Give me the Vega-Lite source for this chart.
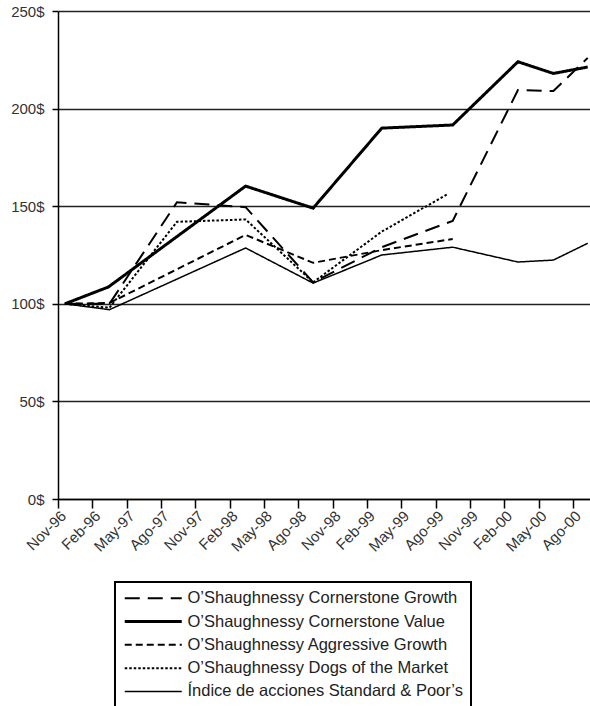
{
  "$schema": "https://vega.github.io/schema/vega-lite/v6.json",
  "width": 532,
  "height": 488,
  "autosize": "none",
  "padding": {"left": 58, "top": 11, "right": 0, "bottom": 207},
  "background": "white",
  "config": {"view": {"stroke": null}, "font": "Liberation Sans", "legend": {"strokeWidth": 2}},
  "data": {
    "values": [
      {"serie": "O’Shaughnessy Cornerstone Growth", "mes": 0.6, "valor": 100},
      {"serie": "O’Shaughnessy Cornerstone Growth", "mes": 4.5, "valor": 100},
      {"serie": "O’Shaughnessy Cornerstone Growth", "mes": 10.4, "valor": 152},
      {"serie": "O’Shaughnessy Cornerstone Growth", "mes": 16.4, "valor": 149.5},
      {"serie": "O’Shaughnessy Cornerstone Growth", "mes": 22.3, "valor": 111},
      {"serie": "O’Shaughnessy Cornerstone Growth", "mes": 28.3, "valor": 129},
      {"serie": "O’Shaughnessy Cornerstone Growth", "mes": 34.5, "valor": 142.5},
      {"serie": "O’Shaughnessy Cornerstone Growth", "mes": 40.2, "valor": 209.5},
      {"serie": "O’Shaughnessy Cornerstone Growth", "mes": 43.3, "valor": 209},
      {"serie": "O’Shaughnessy Cornerstone Growth", "mes": 46.3, "valor": 226},
      {"serie": "O’Shaughnessy Cornerstone Value", "mes": 0.6, "valor": 100},
      {"serie": "O’Shaughnessy Cornerstone Value", "mes": 4.4, "valor": 108.6},
      {"serie": "O’Shaughnessy Cornerstone Value", "mes": 16.4, "valor": 160.3},
      {"serie": "O’Shaughnessy Cornerstone Value", "mes": 22.3, "valor": 149},
      {"serie": "O’Shaughnessy Cornerstone Value", "mes": 28.3, "valor": 190},
      {"serie": "O’Shaughnessy Cornerstone Value", "mes": 34.5, "valor": 191.6},
      {"serie": "O’Shaughnessy Cornerstone Value", "mes": 40.2, "valor": 224},
      {"serie": "O’Shaughnessy Cornerstone Value", "mes": 43.3, "valor": 218},
      {"serie": "O’Shaughnessy Cornerstone Value", "mes": 46.3, "valor": 221.3},
      {"serie": "O’Shaughnessy Aggressive Growth", "mes": 0.6, "valor": 100},
      {"serie": "O’Shaughnessy Aggressive Growth", "mes": 4.5, "valor": 100.4},
      {"serie": "O’Shaughnessy Aggressive Growth", "mes": 16.4, "valor": 135.3},
      {"serie": "O’Shaughnessy Aggressive Growth", "mes": 22.3, "valor": 121},
      {"serie": "O’Shaughnessy Aggressive Growth", "mes": 28.3, "valor": 127.5},
      {"serie": "O’Shaughnessy Aggressive Growth", "mes": 34.5, "valor": 133.2},
      {"serie": "O’Shaughnessy Dogs of the Market", "mes": 0.6, "valor": 100},
      {"serie": "O’Shaughnessy Dogs of the Market", "mes": 4.5, "valor": 98},
      {"serie": "O’Shaughnessy Dogs of the Market", "mes": 10.4, "valor": 142},
      {"serie": "O’Shaughnessy Dogs of the Market", "mes": 16.4, "valor": 143.2},
      {"serie": "O’Shaughnessy Dogs of the Market", "mes": 22.3, "valor": 111},
      {"serie": "O’Shaughnessy Dogs of the Market", "mes": 28.3, "valor": 137},
      {"serie": "O’Shaughnessy Dogs of the Market", "mes": 34.0, "valor": 156},
      {"serie": "Índice de acciones Standard & Poor’s", "mes": 0.6, "valor": 100},
      {"serie": "Índice de acciones Standard & Poor’s", "mes": 4.5, "valor": 97},
      {"serie": "Índice de acciones Standard & Poor’s", "mes": 16.4, "valor": 128.6},
      {"serie": "Índice de acciones Standard & Poor’s", "mes": 22.3, "valor": 110.6},
      {"serie": "Índice de acciones Standard & Poor’s", "mes": 28.3, "valor": 125},
      {"serie": "Índice de acciones Standard & Poor’s", "mes": 34.5, "valor": 129},
      {"serie": "Índice de acciones Standard & Poor’s", "mes": 40.2, "valor": 121.4},
      {"serie": "Índice de acciones Standard & Poor’s", "mes": 43.3, "valor": 122.4},
      {"serie": "Índice de acciones Standard & Poor’s", "mes": 46.3, "valor": 131}
    ]
  },
  "mark": {"type": "line", "color": "black", "clip": false},
  "encoding": {
    "x": {
      "field": "mes",
      "type": "quantitative",
      "scale": {"domain": [0, 46.5], "nice": false, "zero": false},
      "axis": {
        "title": null,
        "values": [0, 3, 6, 9, 12, 15, 18, 21, 24, 27, 30, 33, 36, 39, 42, 45],
        "labelExpr": "['Nov-96','Feb-96','May-97','Ago-97','Nov-97','Feb-98','May-98','Ago-98','Nov-98','Feb-99','May-99','Ago-99','Nov-99','Feb-00','May-00','Ago-00'][round(datum.value/3)]",
        "labelAngle": -45,
        "labelAlign": "right",
        "labelBaseline": "middle",
        "labelFontSize": 15,
        "labelColor": "#333",
        "labelPadding": 5,
        "labelOffset": 5,
        "labelOverlap": false,
        "labelFlush": false,
        "tickSize": 9,
        "tickColor": "black",
        "tickWidth": 1.5,
        "domainColor": "black",
        "domainWidth": 1.5,
        "grid": false
      }
    },
    "y": {
      "field": "valor",
      "type": "quantitative",
      "scale": {"domain": [0, 250], "nice": false},
      "axis": {
        "title": null,
        "values": [0, 50, 100, 150, 200, 250],
        "labelExpr": "datum.value + '$'",
        "grid": true,
        "gridColor": "#222",
        "gridWidth": 1.5,
        "gridOpacity": 1,
        "domainColor": "black",
        "domainWidth": 1.5,
        "tickColor": "black",
        "tickWidth": 1.5,
        "tickSize": 6,
        "labelPadding": 8,
        "labelFontSize": 15,
        "labelColor": "#333"
      }
    },
    "strokeDash": {
      "field": "serie",
      "type": "nominal",
      "scale": {
        "domain": ["O’Shaughnessy Cornerstone Growth", "O’Shaughnessy Cornerstone Value", "O’Shaughnessy Aggressive Growth", "O’Shaughnessy Dogs of the Market", "Índice de acciones Standard & Poor’s"],
        "range": [[15, 8], [1, 0], [7, 4], [2.5, 2], [1, 0]]
      },
      "legend": {
        "orient": "none",
        "legendX": 57,
        "legendY": 571,
        "title": null,
        "symbolType": "M-5,0H5",
        "symbolSize": 130,
        "symbolOffset": 22,
        "symbolStrokeColor": "black",
        "labelFontSize": 16.5,
        "labelColor": "#222",
        "strokeColor": "black",
        "fillColor": "white",
        "padding": 8,
        "rowPadding": 6.3,
        "labelOffset": 26,
        "labelLimit": 400
      }
    },
    "strokeWidth": {
      "field": "serie",
      "type": "nominal",
      "scale": {
        "type": "ordinal",
        "domain": ["O’Shaughnessy Cornerstone Growth", "O’Shaughnessy Cornerstone Value", "O’Shaughnessy Aggressive Growth", "O’Shaughnessy Dogs of the Market", "Índice de acciones Standard & Poor’s"],
        "range": [2, 3, 2, 2, 1.5]
      }
    }
  }
}
